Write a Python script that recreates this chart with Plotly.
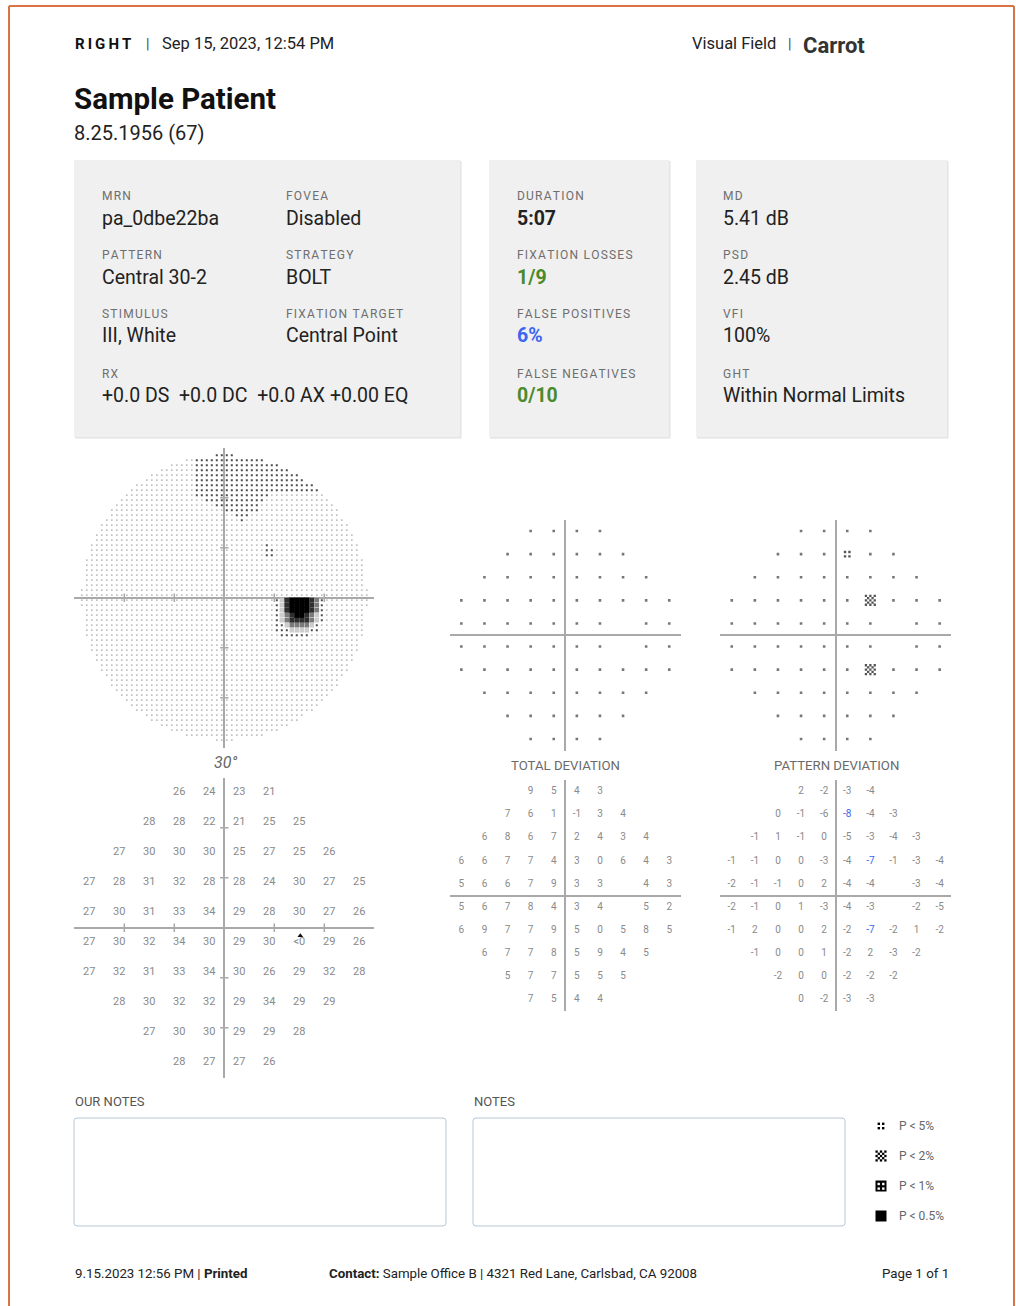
import numpy as np
import plotly.graph_objects as go

W, H = 1016, 1306

# ---------------- data ----------------
row_y = [27, 21, 15, 9, 3, -3, -9, -15, -21, -27]

threshold_rows = [
    [26, 24, 23, 21],
    [28, 28, 22, 21, 25, 25],
    [27, 30, 30, 30, 25, 27, 25, 26],
    [27, 28, 31, 32, 28, 28, 24, 30, 27, 25],
    [27, 30, 31, 33, 34, 29, 28, 30, 27, 26],
    [27, 30, 32, 34, 30, 29, 30, 0, 29, 26],
    [27, 32, 31, 33, 34, 30, 26, 29, 32, 28],
    [28, 30, 32, 32, 29, 34, 29, 29],
    [27, 30, 30, 29, 29, 28],
    [28, 27, 27, 26],
]
below_zero_label = "<0"

total_dev_rows = [
    [9, 5, 4, 3],
    [7, 6, 1, -1, 3, 4],
    [6, 8, 6, 7, 2, 4, 3, 4],
    [6, 6, 7, 7, 4, 3, 0, 6, 4, 3],
    [5, 6, 6, 7, 9, 3, 3, None, 4, 3],
    [5, 6, 7, 8, 4, 3, 4, None, 5, 2],
    [6, 9, 7, 7, 9, 5, 0, 5, 8, 5],
    [6, 7, 7, 8, 5, 9, 4, 5],
    [5, 7, 7, 5, 5, 5],
    [7, 5, 4, 4],
]

pattern_dev_rows = [
    [2, -2, -3, -4],
    [0, -1, -6, -8, -4, -3],
    [-1, 1, -1, 0, -5, -3, -4, -3],
    [-1, -1, 0, 0, -3, -4, -7, -1, -3, -4],
    [-2, -1, -1, 0, 2, -4, -4, None, -3, -4],
    [-2, -1, 0, 1, -3, -4, -3, None, -2, -5],
    [-1, 2, 0, 0, 2, -2, -7, -2, 1, -2],
    [-1, 0, 0, 1, -2, 2, -3, -2],
    [-2, 0, 0, -2, -2, -2],
    [0, -2, -3, -3],
]

pd_prob_x = [3, 9, 9]
pd_prob_y = [21, 9, -9]
pd_prob_level = ["p5", "p2", "p2"]

blind_spot_x = [15.2]
blind_spot_y = [-1.6]

legend_levels = ["p5", "p2", "p1", "p05"]
legend_labels = ["P < 5%", "P < 2%", "P < 1%", "P < 0.5%"]

info_left = [("MRN", "pa_0dbe22ba"), ("FOVEA", "Disabled"),
             ("PATTERN", "Central 30-2"), ("STRATEGY", "BOLT"),
             ("STIMULUS", "III, White"), ("FIXATION TARGET", "Central Point"),
             ("RX", "+0.0 DS  +0.0 DC  +0.0 AX +0.00 EQ")]
info_mid = [("DURATION", "5:07"), ("FIXATION LOSSES", "1/9"),
            ("FALSE POSITIVES", "6%"), ("FALSE NEGATIVES", "0/10")]
info_right = [("MD", "5.41 dB"), ("PSD", "2.45 dB"), ("VFI", "100%"),
              ("GHT", "Within Normal Limits")]

FONT = "Roboto"
GREEN = "#4b8a2c"
BLUE = "#3a66f0"
HS = "\u200a"


def spaced(s):
    return HS.join(list(s))


def row_xs(n):
    return [-3 * (n - 1) + 6 * i for i in range(n)]


fig = go.Figure()
annotations = []
shapes = []


def P(x, y):
    return x / W, 1 - y / H


def ann(x, y, text, size, color="#222", xanchor="left", family=FONT):
    px, py = P(x, y)
    annotations.append(dict(x=px, y=py, xref="paper", yref="paper", text=text,
                            showarrow=False, xanchor=xanchor, yanchor="middle",
                            font=dict(size=size, color=color, family=family)))


axes_layout = {}


def add_axes(idx, cx, cy, half, rng=30, zl=True):
    x0, x1 = (cx - half) / W, (cx + half) / W
    y0, y1 = 1 - (cy + half) / H, 1 - (cy - half) / H
    common = dict(showgrid=False, zeroline=zl, zerolinecolor="#a9a9a9", zerolinewidth=2,
                  showticklabels=False, ticks="", showline=False, fixedrange=True)
    sx = "" if idx == 1 else str(idx)
    axes_layout["xaxis" + sx] = dict(domain=[x0, x1], range=[-rng, rng], anchor="y" + sx, **common)
    axes_layout["yaxis" + sx] = dict(domain=[y0, y1], range=[-rng, rng], anchor="x" + sx, **common)
    return ("x" + sx, "y" + sx)


GS = add_axes(1, 224.3, 597.7, 150)      # grayscale
TH = add_axes(2, 224.3, 927.7, 150)      # threshold numbers
TDD = add_axes(3, 565.3, 635.0, 115.5)   # total deviation probability
PDD = add_axes(4, 835.7, 635.0, 115.5)   # pattern deviation probability
TDN = add_axes(5, 565.3, 895.7, 115.5)   # total deviation numbers
PDN = add_axes(6, 835.7, 895.7, 115.5)   # pattern deviation numbers
axes_layout["xaxis7"] = dict(domain=[0, 1], range=[0, W], visible=False, anchor="y7", fixedrange=True)
axes_layout["yaxis7"] = dict(domain=[0, 1], range=[H, 0], visible=False, anchor="x7", fixedrange=True)


def flatten(rows):
    xs, ys, vs = [], [], []
    for yv, r in zip(row_y, rows):
        for xv, v in zip(row_xs(len(r)), r):
            xs.append(xv); ys.append(yv); vs.append(v)
    return xs, ys, vs


# ---------- grayscale ----------
def row_interp(r, x):
    xs = row_xs(len(r))
    x = min(max(x, xs[0]), xs[-1])
    return float(np.interp(x, xs, r))


def gray_value(x, y):
    hemi = [(yy, r) for yy, r in zip(row_y, threshold_rows) if (yy > 0) == (y > 0)]
    ys_ = [h[0] for h in hemi]
    yc = min(max(y, min(ys_)), max(ys_))
    vals = {yy: row_interp(r, x) for yy, r in hemi}
    order = sorted(ys_)
    return float(np.interp(yc, order, [vals[o] for o in order]))


gx, gy, gv = [], [], []
for yy in np.arange(-28.5, 29, 1.0):
    for xx in np.arange(-28.5, 29, 1.0):
        if xx * xx + yy * yy <= 28.6 ** 2:
            gx.append(xx); gy.append(yy); gv.append(gray_value(xx, yy))
gx, gy, gv = np.array(gx), np.array(gy), np.array(gv)

gray_levels = [
    (-99, 9, "square", 5.4, "#000000"),
    (9, 13, "square", 5.0, "#2e2e2e"),
    (13, 17, "square", 4.6, "#7a7a7a"),
    (17, 21, "square", 4.4, "#cdcdcd"),
    (21, 25, "square", 2.0, "#4d4d4d"),
    (25, 99, "square", 1.7, "#c2c2c2"),
]
for lo, hi, sym, sz, col in gray_levels:
    m = (gv >= lo) & (gv < hi)
    fig.add_trace(go.Scatter(x=gx[m], y=gy[m], mode="markers", xaxis=GS[0], yaxis=GS[1],
                             marker=dict(symbol=sym, size=sz, color=col, line=dict(width=0)),
                             hoverinfo="skip", showlegend=False))

tick_pos = [-20, -10, 10, 20]
for ax in (GS, TH):
    fig.add_trace(go.Scatter(x=tick_pos, y=[0] * 4, mode="markers", xaxis=ax[0], yaxis=ax[1],
                             marker=dict(symbol="line-ns", size=6, line=dict(width=1.5, color="#a9a9a9")),
                             hoverinfo="skip", showlegend=False))
    fig.add_trace(go.Scatter(x=[0] * 4, y=tick_pos, mode="markers", xaxis=ax[0], yaxis=ax[1],
                             marker=dict(symbol="line-ew", size=6, line=dict(width=1.5, color="#a9a9a9")),
                             hoverinfo="skip", showlegend=False))

# ---------- threshold numbers ----------
tx, ty, tv = flatten(threshold_rows)
tlabels = [below_zero_label if v <= 0 else str(v) for v in tv]
fig.add_trace(go.Scatter(x=tx, y=ty, mode="text", text=tlabels, xaxis=TH[0], yaxis=TH[1],
                         textfont=dict(size=11, color="#8a8a8a", family=FONT),
                         hoverinfo="skip", showlegend=False))
fig.add_trace(go.Scatter(x=blind_spot_x, y=blind_spot_y, mode="markers", xaxis=TH[0], yaxis=TH[1],
                         marker=dict(symbol="triangle-up", size=5, color="#111"),
                         hoverinfo="skip", showlegend=False))

# ---------- deviation numbers ----------
prob_set = set(zip(pd_prob_x, pd_prob_y))
for rows, ax, highlight in ((total_dev_rows, TDN, set()), (pattern_dev_rows, PDN, prob_set)):
    xs, ys, vs = flatten(rows)
    keep = [i for i, v in enumerate(vs) if v is not None]
    normal = [i for i in keep if (xs[i], ys[i]) not in highlight]
    hi = [i for i in keep if (xs[i], ys[i]) in highlight]
    for idxs, col in ((normal, "#8a8a8a"), (hi, BLUE)):
        if not idxs:
            continue
        fig.add_trace(go.Scatter(x=[xs[i] for i in idxs], y=[ys[i] for i in idxs], mode="text",
                                 text=[str(vs[i]) for i in idxs], xaxis=ax[0], yaxis=ax[1],
                                 textfont=dict(size=10, color=col, family=FONT),
                                 hoverinfo="skip", showlegend=False))


# ---------- probability glyphs ----------
def glyph(kind, ink):
    out = []
    if kind == "p5":
        for dx in (-2.2, 2.2):
            for dy in (-2.2, 2.2):
                out.append((dx, dy, 2.4, ink))
    elif kind == "p2":
        for i in range(5):
            for j in range(5):
                if (i + j) % 2 == 0:
                    out.append(((i - 2) * 2.2, (j - 2) * 2.2, 2.3, ink))
    elif kind == "p1":
        out.append((0, 0, 11, ink))
        for dx in (-2.3, 2.3):
            for dy in (-2.0, 2.6):
                out.append((dx, dy, 2.4, "#fff"))
    else:
        out.append((0, 0, 11, ink))
    return out


def draw_glyph(kind, cx, cy, ax, scale, ydown=False, ink="#000"):
    g = glyph(kind, ink)
    fig.add_trace(go.Scatter(
        x=[cx + d[0] / scale for d in g],
        y=[cy + (d[1] if ydown else -d[1]) / scale for d in g],
        mode="markers", xaxis=ax[0], yaxis=ax[1],
        marker=dict(symbol="square", size=[d[2] for d in g], color=[d[3] for d in g],
                    opacity=1, line=dict(width=0)),
        hoverinfo="skip", showlegend=False))


scale_dev = 115.5 / 30.0
for rows, ax, probs in ((total_dev_rows, TDD, []), (pattern_dev_rows, PDD, list(zip(pd_prob_x, pd_prob_y, pd_prob_level)))):
    xs, ys, vs = flatten(rows)
    pset = {(p[0], p[1]) for p in probs}
    dx = [xs[i] for i, v in enumerate(vs) if v is not None and (xs[i], ys[i]) not in pset]
    dy = [ys[i] for i, v in enumerate(vs) if v is not None and (xs[i], ys[i]) not in pset]
    fig.add_trace(go.Scatter(x=dx, y=dy, mode="markers", xaxis=ax[0], yaxis=ax[1],
                             marker=dict(symbol="square", size=2.6, color="#777"),
                             hoverinfo="skip", showlegend=False))
    for px_, py_, lvl in probs:
        draw_glyph(lvl, px_, py_, ax, scale_dev, ink="#555")

LEG = ("x7", "y7")
for i, (lvl, lab) in enumerate(zip(legend_levels, legend_labels)):
    yy = 1126 + 30 * i
    draw_glyph(lvl, 881, yy, LEG, 1.0, ydown=True)
    ann(897, yy, lab, 12, "#666")

# ---------- page decoration ----------
ORANGE = "#dc7345"
shapes += [
    dict(type="line", xref="paper", yref="paper", x0=9 / W, x1=9 / W, y0=0, y1=1 - 6 / H, line=dict(color=ORANGE, width=2)),
    dict(type="line", xref="paper", yref="paper", x0=9 / W, x1=1014 / W, y0=1 - 6 / H, y1=1 - 6 / H, line=dict(color=ORANGE, width=2)),
    dict(type="line", xref="paper", yref="paper", x0=1014 / W, x1=1014 / W, y0=0, y1=1 - 6 / H, line=dict(color=ORANGE, width=2)),
]


def rect(x0, y0, x1, y1, fill, line=None, layer="below"):
    a, b = P(x0, y0)
    c, d = P(x1, y1)
    shapes.append(dict(type="rect", xref="paper", yref="paper", x0=a, x1=c, y0=d, y1=b,
                       fillcolor=fill, line=line or dict(width=0), layer=layer))


def round_rect(x0, y0, x1, y1, r, color):
    def p(x, y):
        a, b = P(x, y)
        return f"{a:.6f},{b:.6f}"
    path = (f"M {p(x0 + r, y0)} L {p(x1 - r, y0)} Q {p(x1, y0)} {p(x1, y0 + r)} "
            f"L {p(x1, y1 - r)} Q {p(x1, y1)} {p(x1 - r, y1)} "
            f"L {p(x0 + r, y1)} Q {p(x0, y1)} {p(x0, y1 - r)} "
            f"L {p(x0, y0 + r)} Q {p(x0, y0)} {p(x0 + r, y0)} Z")
    shapes.append(dict(type="path", xref="paper", yref="paper", path=path,
                       line=dict(color=color, width=1), fillcolor="rgba(0,0,0,0)"))


for bx0, bx1 in ((74, 460), (489, 669), (696, 947)):
    rect(bx0 + 1, 161, bx1 + 1.5, 438.5, "#e4e4e4")
    rect(bx0, 160, bx1, 437, "#f0f0f0")

round_rect(74, 1118, 446, 1226, 3, "#b7c6d6")
round_rect(473, 1118, 845, 1226, 3, "#b7c6d6")

# ---------- text ----------
ann(73, 44, "<b>" + (HS + HS).join("RIGHT") + "</b>", 15, "#111")
ann(144, 44, "|", 14, "#444")
ann(160, 44, "Sep 15, 2023, 12:54 PM", 16.5, "#222")
ann(690, 44, "Visual Field", 16.5, "#222")
ann(786, 44, "|", 14, "#444")
ann(801, 45, "<b>Carrot</b>", 22, "#333")
ann(72, 99, "<b>Sample Patient</b>", 29.5, "#111")
ann(72, 133, "8.25.1956 (67)", 20, "#222")

LBL = "#6e6e6e"
label_y = [196, 255, 314, 374]
value_y = [218, 277, 336, 395]
for k, (lab, val) in enumerate(info_left):
    col = k % 2
    r = k // 2
    x = 100 if col == 0 else 284
    ann(x, label_y[r], spaced(lab), 12, LBL)
    ann(x, value_y[r], val, 19.5, "#222")

mid_colors = ["#222", GREEN, BLUE, GREEN]
for r, ((lab, val), c) in enumerate(zip(info_mid, mid_colors)):
    ann(515, label_y[r], spaced(lab), 12, LBL)
    ann(515, value_y[r], "<b>" + val + "</b>", 19.5, c)

for r, (lab, val) in enumerate(info_right):
    ann(721, label_y[r], spaced(lab), 12, LBL)
    ann(721, value_y[r], val, 19.5, "#222")

ann(225, 762, "<i>30°</i>", 16, "#666", xanchor="center")
ann(565, 765, "TOTAL DEVIATION", 13.2, "#6a6a6a", xanchor="center")
ann(836, 765, "PATTERN DEVIATION", 13.2, "#6a6a6a", xanchor="center")
ann(73, 1101, "OUR NOTES", 13, "#555")
ann(472, 1101, "NOTES", 13, "#555")

ann(73, 1273, "9.15.2023 12:56 PM | <b>Printed</b>", 13.3, "#222")
ann(327, 1273, "<b>Contact:</b> Sample Office B | 4321 Red Lane, Carlsbad, CA 92008", 13.3, "#222")
ann(951, 1273, "Page 1 of 1", 13.3, "#222", xanchor="right")

fig.update_layout(width=W, height=H, margin=dict(l=0, r=0, t=0, b=0),
                  paper_bgcolor="white", plot_bgcolor="rgba(0,0,0,0)",
                  showlegend=False, annotations=annotations, shapes=shapes,
                  font=dict(family=FONT), **axes_layout)

fig.write_html("out.html", config={"displayModeBar": False},
               post_script="document.body.style.margin='0px';")
